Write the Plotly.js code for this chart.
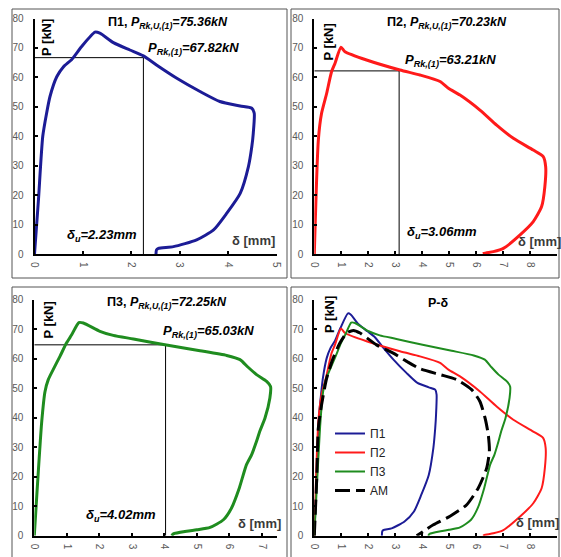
<!DOCTYPE html>
<html>
<head>
<meta charset="utf-8">
<script src="https://cdn.plot.ly/plotly-3.0.1.min.js"></script>
<style>html,body{margin:0;padding:0;background:#fff;}#chart{width:561px;height:557px;}</style>
</head>
<body>
<div id="chart"></div>
<script>
// ---- data ----
const seriesNames = ['Π1', 'Π2', 'Π3', 'AM'];

const p1Delta = [0, 0.08, 0.17, 0.25, 0.32, 0.46, 0.60, 0.77, 0.97, 1.25, 1.35, 1.63, 1.97, 2.25, 2.52, 2.94, 3.42, 3.83, 4.25, 4.49, 4.54, 4.52, 4.49, 4.42, 4.25, 3.97, 3.70, 3.35, 2.87, 2.56, 2.52, 2.51];
const p1Load  = [0, 18.0, 39.9, 47.8, 53.5, 60.2, 63.6, 66.1, 70.4, 75.36, 75.0, 71.8, 69.3, 67.3, 64.2, 59.7, 55.2, 51.8, 50.3, 49.5, 47.8, 41.0, 36.5, 29.7, 20.6, 13.8, 8.2, 4.8, 2.5, 1.9, 1.4, 0];

const p2Delta = [0, 0.15, 0.27, 0.46, 0.64, 0.77, 0.99, 1.14, 1.94, 3.18, 3.92, 4.67, 4.98, 5.41, 6.15, 6.77, 7.39, 8.13, 8.50, 8.59, 8.56, 8.44, 8.13, 7.64, 7.02, 6.65, 6.30, 6.27];
const p2Load  = [0, 38.7, 47.8, 54.6, 61.9, 64.8, 70.23, 68.7, 65.9, 62.5, 60.8, 58.6, 56.3, 54.0, 48.9, 43.8, 39.3, 35.3, 33.1, 29.7, 22.9, 16.1, 11.0, 6.5, 1.9, 0.8, 0.2, 0];

const p3Delta = [0, 0.23, 0.33, 0.43, 0.58, 0.79, 0.99, 1.15, 1.37, 1.51, 2.02, 2.43, 3.05, 4.02, 5.10, 5.92, 6.33, 6.58, 6.84, 7.15, 7.27, 7.25, 7.10, 6.94, 6.84, 6.69, 6.53, 6.31, 6.07, 5.82, 5.41, 5.00, 4.69, 4.28, 4.23];
const p3Load  = [0, 38.8, 48.9, 52.9, 56.3, 60.8, 65.3, 68.1, 72.25, 72.1, 69.3, 67.9, 66.7, 64.7, 62.7, 61.1, 59.7, 57.1, 54.6, 52.3, 50.6, 46.7, 39.9, 35.4, 32.0, 27.5, 24.1, 16.2, 9.4, 5.4, 2.8, 2.0, 1.5, 0.6, 0];

const amDelta = [0, 0.09, 0.15, 0.27, 0.46, 0.70, 0.95, 1.20, 1.45, 1.70, 2.31, 2.93, 3.43, 3.92, 4.67, 5.28, 5.84, 6.15, 6.34, 6.46, 6.50, 6.40, 6.09, 5.66, 5.04, 4.42, 4.05, 3.80];
const amLoad  = [0, 19.5, 36.5, 44.4, 53.4, 60.2, 65.3, 68.7, 69.6, 68.7, 64.7, 61.9, 59.1, 56.6, 54.6, 52.9, 49.5, 45.5, 39.9, 34.2, 28.6, 22.9, 16.2, 10.5, 6.6, 3.7, 1.5, 0];

// characteristic point lines (as drawn in the picture)
const refDelta = [2.25, 3.15, 4.04];
const refLoad  = [66.7, 62.2, 64.7];

// label texts
const ultLabels  = ['75.36', '70.23', '72.25'];
const charLabels = ['67.82', '63.21', '65.03'];
const duLabels   = ['2.23', '3.06', '4.02'];
const xMax = [5, 9, 7.46, 9];

// ---- styles ----
const colors = ['#1c1c96', '#ff1a1a', '#1f8c1f', '#000000'];
const W = 561, H = 557;
const px = v => v / W;
const py = v => 1 - v / H;
const FONT = 'Liberation Sans, Arial, sans-serif';

const curves = [[p1Delta, p1Load], [p2Delta, p2Load], [p3Delta, p3Load]];
const traces = [];
const axSuffix = ['', '2', '3', '4'];

for (let i = 0; i < 3; i++) {
  const s = axSuffix[i];
  traces.push({
    x: [0, refDelta[i], refDelta[i]], y: [refLoad[i], refLoad[i], 0],
    xaxis: 'x' + s, yaxis: 'y' + s, mode: 'lines', showlegend: false,
    line: {color: '#000', width: 1}, hoverinfo: 'skip'
  });
  traces.push({
    x: curves[i][0], y: curves[i][1], xaxis: 'x' + s, yaxis: 'y' + s,
    mode: 'lines', showlegend: false, name: seriesNames[i],
    line: {color: colors[i], width: 3, shape: 'spline', smoothing: 0.6}
  });
}
const allCurves = [[p1Delta, p1Load], [p2Delta, p2Load], [p3Delta, p3Load], [amDelta, amLoad]];
for (let i = 0; i < 4; i++) {
  traces.push({
    x: allCurves[i][0], y: allCurves[i][1], xaxis: 'x4', yaxis: 'y4',
    mode: 'lines', name: seriesNames[i], showlegend: true,
    line: i === 3 ? {color: '#000', width: 3, dash: '15px,6px', shape: 'spline', smoothing: 0.6}
                  : {color: colors[i], width: 2, shape: 'spline', smoothing: 0.6}
  });
}

const xDom = [[34.5, 276.5], [314.3, 556.7], [34.3, 276.7], [314.3, 556.7]];
const yDom = [[254, 18.5], [254, 18.5], [535.7, 299.7], [535.7, 299.7]];
const layout = {
  width: W, height: H, margin: {l: 0, r: 0, t: 0, b: 0},
  paper_bgcolor: '#fff', plot_bgcolor: 'rgba(0,0,0,0)',
  font: {family: FONT},
  showlegend: true,
  legend: {x: px(330), y: py(419), xanchor: 'left', yanchor: 'top',
           bgcolor: 'rgba(0,0,0,0)', font: {size: 12, color: '#222', family: FONT}},
  shapes: [], annotations: []
};
for (let i = 0; i < 4; i++) {
  const s = axSuffix[i];
  layout['xaxis' + s] = {
    domain: [px(xDom[i][0]), px(xDom[i][1])], range: [0, xMax[i]],
    anchor: 'y' + s, dtick: 1, tick0: 0, showgrid: false, zeroline: false,
    showline: true, linecolor: '#000', linewidth: 2,
    ticks: 'inside', ticklen: 3, tickwidth: 2, tickcolor: '#000',
    tickangle: 90, tickfont: {size: 10, color: '#595959', family: FONT},
    ticklabelstandoff: 4, fixedrange: true
  };
  layout['yaxis' + s] = {
    domain: [py(yDom[i][0]), py(yDom[i][1])], range: [0, 80],
    anchor: 'x' + s, dtick: 10, tick0: 0, showgrid: false, zeroline: false,
    showline: true, linecolor: '#000', linewidth: 2,
    ticks: 'inside', ticklen: 3, tickwidth: 2, tickcolor: '#000',
    tickfont: {size: 10, color: '#595959', family: FONT},
    ticklabelstandoff: 7, fixedrange: true
  };
}

const boxes = [[12, 9, 287, 278], [291, 9, 559, 278], [12, 287, 287, 560], [291, 287, 559, 560]];
boxes.forEach(b => layout.shapes.push({
  type: 'rect', xref: 'paper', yref: 'paper',
  x0: px(b[0]), x1: px(b[2]), y0: py(b[3]), y1: py(b[1]),
  line: {color: '#555', width: 1}, fillcolor: 'rgba(0,0,0,0)', layer: 'below'
}));

function ann(text, x, y, size, opts) {
  layout.annotations.push(Object.assign({
    text: text, xref: 'paper', yref: 'paper', x: px(x), y: py(y),
    xanchor: 'center', yanchor: 'middle', showarrow: false,
    font: {size: size, color: '#000', family: FONT}
  }, opts || {}));
}

const titlePos = [[168, 23], [447, 23], [167, 303]];
const charPos  = [[193, 48], [450, 61], [208, 331]];
const duPos    = [[102, 235], [442, 233], [121, 515]];
const mmPos    = [[253, 240], [539, 241], [259, 523], [537, 522]];
const pkPos    = [[47, 38], [327.5, 42], [47.5, 320], [329, 315]];

for (let i = 0; i < 3; i++) {
  ann('<b>Π' + (i + 1) + ', <i>P</i><sub><i>Rk,U,(1)</i></sub><i>=' + ultLabels[i] + 'kN</i></b>', titlePos[i][0], titlePos[i][1], 12.5);
  ann('<b><i>P</i><sub><i>Rk,(1)</i></sub><i>=' + charLabels[i] + 'kN</i></b>', charPos[i][0], charPos[i][1], 13);
  ann('<b><i>δ</i><sub><i>u</i></sub><i>=' + duLabels[i] + 'mm</i></b>', duPos[i][0], duPos[i][1], 13);
}
ann('<b>P-δ</b>', 438, 303, 12.5);
for (let i = 0; i < 4; i++) {
  ann('<b>δ [mm]</b>', mmPos[i][0], mmPos[i][1], 13, {font: {size: 13, color: '#3a3a3a', family: FONT}});
  ann('<b>P [kN]</b>', pkPos[i][0], pkPos[i][1], 13, {textangle: -90});
}

Plotly.newPlot('chart', traces, layout, {staticPlot: true, displayModeBar: false});
</script>
</body>
</html>
